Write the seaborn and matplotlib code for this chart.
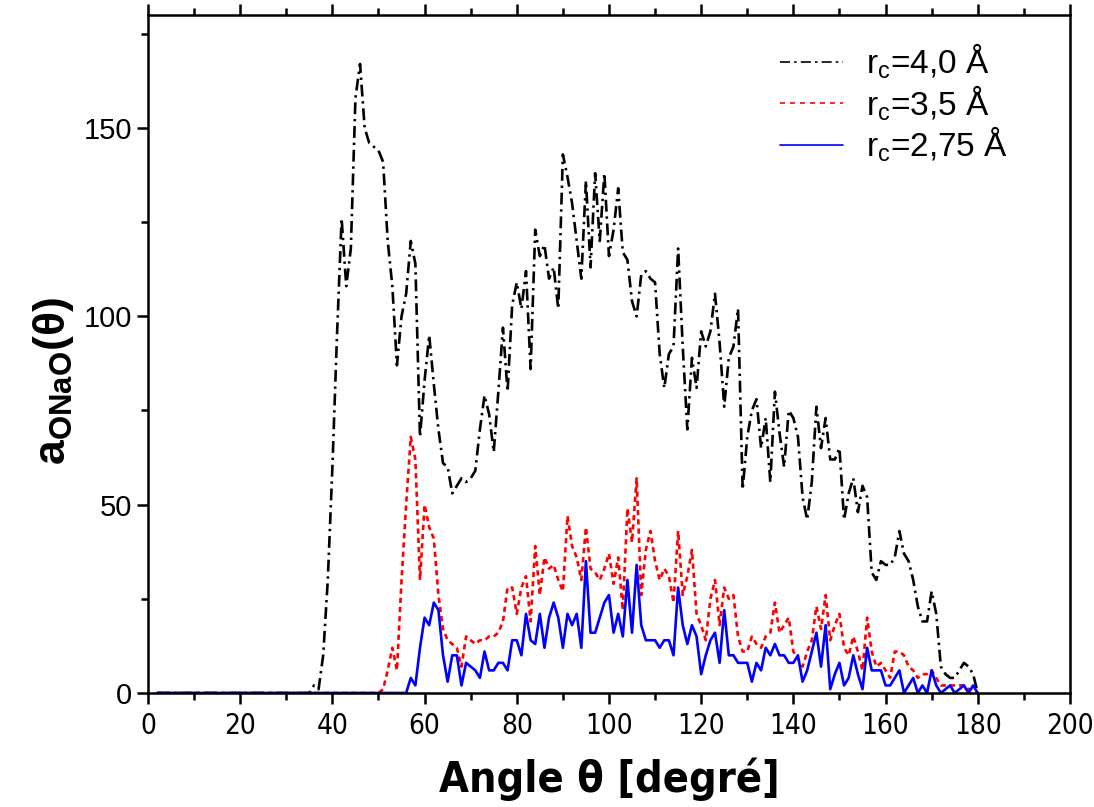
import numpy as np
import pandas as pd
import matplotlib
matplotlib.use("Agg")
import matplotlib.pyplot as plt
from matplotlib.lines import Line2D
from matplotlib.ticker import MultipleLocator
from matplotlib import font_manager as fm
import seaborn as sns

# ---------------- data ----------------
theta = list(range(2, 181))

rc40 = [0]*33 + [
    0, 2, 1, 10, 30, 60, 95, 126, 108, 118,          # 35-44
    158, 167, 150, 146, 145, 144, 141, 120, 108, 87,  # 45-54
    100, 106, 120, 114, 68, 83, 95, 82, 70, 61,       # 55-64
    60, 53, 55, 57, 56, 57, 59, 70, 79, 74,           # 65-74
    64, 80, 97, 80, 103, 109, 102, 112, 86, 123,      # 75-84
    116, 119, 110, 113, 102, 143, 137, 130, 120, 110, # 85-94
    136, 113, 138, 120, 138, 116, 123, 134, 117, 115, # 95-104
    104, 100, 111, 112, 110, 109, 90, 81, 90, 92,     # 105-114
    118, 92, 70, 89, 81, 96, 92, 96, 106, 93,         # 115-124
    76, 89, 92, 102, 54, 68, 75, 78, 65, 73,          # 125-134
    56, 80, 69, 60, 75, 73, 68, 52, 46, 56,           # 135-144
    76, 65, 73, 62, 62, 65, 46, 53, 57, 48,           # 145-154
    55, 52, 32, 30, 35, 34, 34, 36, 43, 37,           # 155-164
    35, 30, 23, 19, 19, 27, 21, 7, 5, 4,              # 165-174
    4, 6, 8, 7, 5, 0]                                 # 175-180

rc35 = [0]*49 + [
    1, 6, 12, 6,                                      # 51-54
    30, 50, 68, 62, 30, 50, 44, 41, 26, 17,           # 55-64
    14, 13, 12, 7, 15, 14, 13, 14, 14, 15,            # 65-74
    15, 16, 19, 28, 28, 21, 28, 31, 19, 39,           # 75-84
    26, 36, 33, 34, 30, 27, 47, 39, 36, 30,           # 85-94
    44, 33, 32, 30, 33, 37, 29, 36, 22, 49,           # 95-104
    40, 57, 26, 38, 43, 35, 30, 33, 31, 24,           # 105-114
    43, 26, 31, 38, 21, 18, 14, 25, 30, 18,           # 115-124
    28, 25, 26, 15, 11, 11, 15, 13, 12, 15,           # 125-134
    16, 24, 16, 18, 20, 11, 9, 7, 11, 14,             # 135-144
    23, 17, 26, 14, 18, 21, 12, 10, 15, 11,           # 145-154
    6, 20, 11, 7, 8, 6, 4, 11, 11, 10,                # 155-164
    7, 6, 4, 5, 5, 6, 4, 2, 2, 2,                     # 165-174
    2, 2, 2, 1, 1, 0]                                 # 175-180

rc275 = [0]*55 + [
    4, 2, 12, 20, 18, 24, 22, 10,                     # 57-64
    3, 10, 10, 2, 8, 7, 6, 4, 11, 6,                  # 65-74
    6, 8, 8, 6, 14, 14, 10, 21, 14, 13,               # 75-84
    21, 12, 20, 24, 20, 12, 21, 18, 21, 12,           # 85-94
    35, 16, 16, 20, 24, 26, 16, 21, 15, 30,           # 95-104
    16, 34, 18, 14, 14, 14, 12, 14, 14, 10,           # 105-114
    28, 18, 13, 18, 15, 5, 10, 14, 16, 8,             # 115-124
    22, 10, 10, 8, 8, 8, 3, 8, 6, 12,                 # 125-134
    10, 13, 10, 10, 8, 8, 10, 3, 6, 11,               # 135-144
    16, 7, 18, 1, 5, 8, 2, 4, 10, 5,                  # 145-154
    1, 12, 6, 6, 6, 2, 2, 4, 6, 0,                    # 155-164
    2, 4, 0, 2, 0, 6, 2, 0, 1, 2,                     # 165-174
    0, 1, 2, 0, 2, 0]                                 # 175-180

labels = ["r$_\\mathregular{c}$=4,0 Å", "r$_\\mathregular{c}$=3,5 Å", "r$_\\mathregular{c}$=2,75 Å"]
x_ticks = [0, 20, 40, 60, 80, 100, 120, 140, 160, 180, 200]
y_ticks = [0, 50, 100, 150]

# ---------------- style ----------------
sns.set_theme(style="ticks")
plt.rcParams["font.family"] = ["Liberation Sans", "DejaVu Sans"]
plt.rcParams["mathtext.fontset"] = "custom"
plt.rcParams["mathtext.rm"] = "Liberation Sans"
plt.rcParams["mathtext.bf"] = "Liberation Sans:bold"
plt.rcParams["axes.linewidth"] = 1.8
for k in ["text.color", "axes.labelcolor", "xtick.color", "ytick.color", "axes.edgecolor"]:
    plt.rcParams[k] = "black"

# narrow font for x tick labels / x label if available
narrow_family = "Liberation Sans"
narrow_stretch = "normal"
names = {f.name for f in fm.fontManager.ttflist}
if "Liberation Sans Narrow" in names:
    narrow_family = "Liberation Sans Narrow"
else:
    for f in fm.fontManager.ttflist:
        if f.name == "DejaVu Sans" and "Condensed" in f.fname:
            narrow_family = "DejaVu Sans"
            narrow_stretch = "condensed"
            break
is_narrow = narrow_family != "Liberation Sans"

fig = plt.figure(figsize=(10.94, 8.07), dpi=100)
ax = fig.add_axes([0.1353, 0.1413, 0.978 - 0.1353, 0.9814 - 0.1413])

df = pd.DataFrame({"theta": theta, "r40": rc40, "r35": rc35, "r275": rc275})

sns.lineplot(data=df, x="theta", y="r40", ax=ax, color="black", lw=1.9, legend=False)
ax.lines[-1].set_linestyle((0, (4.5, 1.8, 0.9, 1.8)))
sns.lineplot(data=df, x="theta", y="r35", ax=ax, color="#ff0000", lw=1.9, legend=False)
ax.lines[-1].set_linestyle((0, (2.0, 1.5)))
sns.lineplot(data=df, x="theta", y="r275", ax=ax, color="#0000ff", lw=1.9, legend=False)

ax.set_xlim(0, 200)
ax.set_ylim(0, 180)
ax.set_xticks(x_ticks)
ax.set_yticks(y_ticks)
ax.xaxis.set_minor_locator(MultipleLocator(10))
ax.yaxis.set_minor_locator(MultipleLocator(25))

for s in ["top", "right", "left", "bottom"]:
    ax.spines[s].set_visible(True)
    ax.spines[s].set_color("black")
    ax.spines[s].set_linewidth(1.8)

ax.tick_params(axis="both", which="major", direction="out", length=8, width=1.8, color="black")
ax.tick_params(axis="both", which="minor", direction="out", length=5, width=1.8, color="black")
ax.tick_params(axis="x", which="both", top=True, labeltop=False, pad=6)

xfs = 20 if is_narrow else 19
ax.set_xticklabels([str(v) for v in x_ticks], fontsize=xfs,
                   family=narrow_family, fontstretch=narrow_stretch, color="black")
ax.set_yticklabels([str(v) for v in y_ticks], fontsize=21, family="Liberation Sans", color="black")

ax.set_xlabel("Angle θ [degré]", fontsize=(31 if is_narrow else 29), fontweight="bold",
              family=narrow_family, fontstretch=narrow_stretch, color="black")
ax.xaxis.set_label_coords(0.5, -0.095)
ax.set_ylabel("a$_{\\mathbf{ONaO}}$(θ)", fontsize=32, fontweight="bold",
              family=["Liberation Sans", "DejaVu Sans"], color="black")
ax.yaxis.set_label_coords(-0.078, 0.46)

handles = [
    Line2D([], [], color="black", lw=1.2, linestyle=(0, (6, 2.5, 1.5, 2.5))),
    Line2D([], [], color="#ff0000", lw=1.2, linestyle=(0, (3, 3))),
    Line2D([], [], color="#0000ff", lw=1.2),
]
leg = ax.legend(handles, labels, loc="upper right", bbox_to_anchor=(0.955, 0.99),
                frameon=False, fontsize=24, handlelength=1.9, handletextpad=0.7,
                labelspacing=0.05, borderaxespad=0.2)
for t in leg.get_texts():
    t.set_color("black")

fig.savefig("out.png", dpi=100, facecolor="white")
